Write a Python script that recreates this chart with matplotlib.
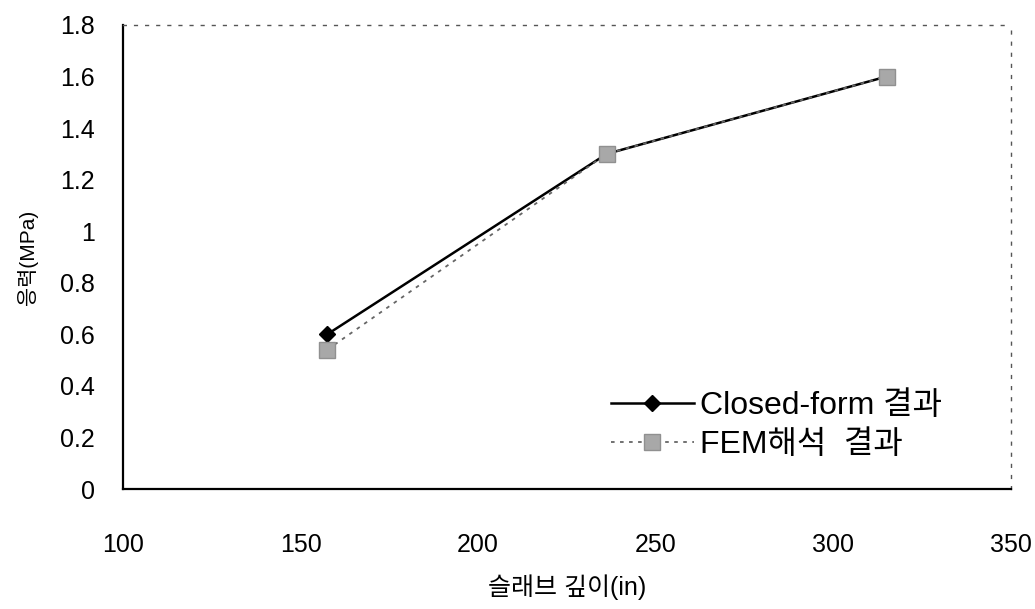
import matplotlib
matplotlib.use("Agg")
import matplotlib.pyplot as plt

plt.rcParams['font.family'] = ['Liberation Sans', 'Noto Sans CJK KR', 'DejaVu Sans']

slab_length = [157.5, 236.2, 315.0]
closed_form = [0.60, 1.30, 1.60]
fem = [0.54, 1.30, 1.60]
x_ticks = [100, 150, 200, 250, 300, 350]
y_ticks = [0, 0.2, 0.4, 0.6, 0.8, 1.0, 1.2, 1.4, 1.6, 1.8]
y_tick_labels = ['0', '0.2', '0.4', '0.6', '0.8', '1', '1.2', '1.4', '1.6', '1.8']

fig = plt.figure(figsize=(10.35, 6.09), dpi=100)
ax = fig.add_axes([0.1188, 0.197, 0.858, 0.762])

ax.plot(slab_length, closed_form, color='black', lw=1.8, marker='D', ms=8,
        markerfacecolor='black', markeredgecolor='black', label='Closed-form 결과', zorder=2)
ax.plot(slab_length, fem, color='#666666', lw=1.3, ls=(0, (2, 3)), marker='s', ms=11,
        markerfacecolor='#a8a8a8', markeredgecolor='#909090', label='FEM해석  결과', zorder=3)

ax.set_xlim(100, 350)
ax.set_ylim(0, 1.8)
ax.set_xticks(x_ticks)
ax.set_yticks(y_ticks)
ax.set_yticklabels(y_tick_labels)
ax.tick_params(axis='both', length=0, labelsize=18)
ax.tick_params(axis='x', pad=32)
ax.tick_params(axis='y', pad=20)

for s in ['left', 'bottom']:
    ax.spines[s].set_linewidth(1.6)
    ax.spines[s].set_color('black')
for s in ['top', 'right']:
    ax.spines[s].set_linewidth(1.0)
    ax.spines[s].set_color('#555555')
    ax.spines[s].set_linestyle((0, (2, 6)))

ax.set_xlabel('슬래브 깊이(in)', fontsize=18, labelpad=12)
ax.set_ylabel('응력(MPa)', fontsize=15, labelpad=16)

leg = ax.legend(loc='lower right', bbox_to_anchor=(0.955, 0.0), frameon=False,
                fontsize=23, handlelength=2.6, handletextpad=0.2, labelspacing=0.3)

fig.savefig('out.png', dpi=100, facecolor='white')
